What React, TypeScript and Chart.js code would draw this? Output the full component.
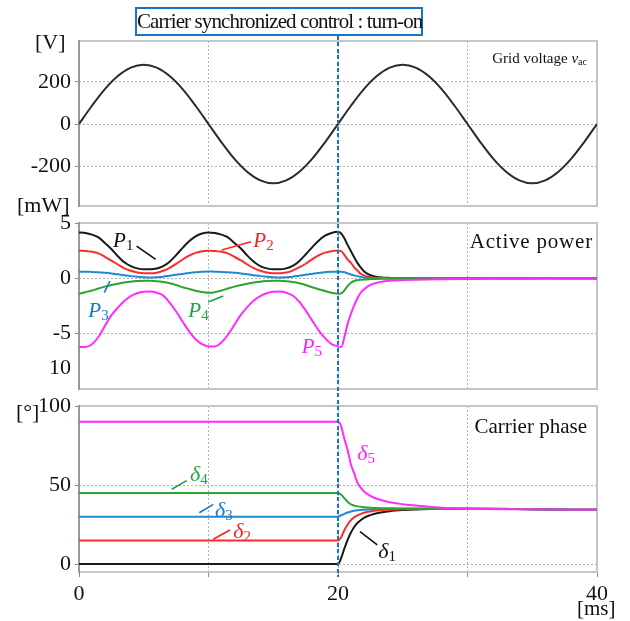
import React, { useEffect, useRef } from "react";
import { Chart, registerables } from "chart.js";

Chart.register(...registerables);

const FONT = "'Liberation Serif', 'Times New Roman', serif";

// ---------- data ----------
const voltageTime = [0, 1, 2, 3, 4, 5, 6, 7, 8, 9, 10, 11, 12, 13, 14, 15, 16, 17, 18, 19, 20, 21, 22, 23, 24, 25, 26, 27, 28, 29, 30, 31, 32, 33, 34, 35, 36, 37, 38, 39, 40];
const voltageValues = [0, 87, 166, 228, 268, 282, 268, 228, 166, 87, 0, -87, -166, -228, -268, -282, -268, -228, -166, -87, 0, 87, 166, 228, 268, 282, 268, 228, 166, 87, 0, -87, -166, -228, -268, -282, -268, -228, -166, -87, 0];

const powerTime = [0, 0.5, 1, 1.5, 2, 2.5, 3, 3.5, 4, 4.5, 5, 5.5, 6, 6.5, 7, 7.5, 8, 8.5, 9, 9.5, 10, 10.5, 11, 11.5, 12, 12.5, 13, 13.5, 14, 14.5, 15, 15.5, 16, 16.5, 17, 17.5, 18, 18.5, 19, 19.5, 20, 20.25, 20.5, 20.75, 21, 21.25, 21.5, 21.75, 22, 22.5, 23, 23.5, 24, 25, 26, 28, 30, 32, 34, 36, 38, 40];
const powerP1 = [4.15, 4.1, 3.95, 3.7, 3.2, 2.65, 2.0, 1.45, 1.1, 0.9, 0.82, 0.82, 0.88, 1.1, 1.5, 2.1, 2.75, 3.35, 3.8, 4.05, 4.15,
  4.1, 3.95, 3.7, 3.2, 2.7, 2.05, 1.5, 1.1, 0.9, 0.82, 0.82, 0.9, 1.12, 1.55, 2.15, 2.8, 3.4, 3.85, 4.1, 4.2,
  4.05, 3.6, 3.0, 2.45, 1.9, 1.4, 0.98, 0.65, 0.28, 0.12, 0.06, 0.04, 0.03, 0.02, 0.02, 0.01, 0.02, 0.01, 0.02, 0.01, 0.0];
const powerP2 = [2.5, 2.48, 2.4, 2.25, 1.95, 1.6, 1.25, 0.9, 0.68, 0.52, 0.45, 0.45, 0.5, 0.68, 0.95, 1.3, 1.7, 2.05, 2.3, 2.45, 2.5,
  2.48, 2.4, 2.25, 1.95, 1.62, 1.25, 0.92, 0.68, 0.52, 0.45, 0.45, 0.52, 0.7, 0.98, 1.32, 1.72, 2.08, 2.32, 2.45, 2.52,
  2.45, 2.1, 1.7, 1.4, 1.0, 0.7, 0.42, 0.27, 0.1, 0.04, 0.02, 0.01, 0.0, 0.01, 0.0, 0.01, 0.0, 0.01, 0.0, 0.0, 0.0];
const powerP3 = [0.6, 0.6, 0.58, 0.55, 0.5, 0.44, 0.36, 0.28, 0.2, 0.14, 0.1, 0.08, 0.1, 0.15, 0.24, 0.32, 0.4, 0.48, 0.55, 0.6, 0.62,
  0.6, 0.58, 0.55, 0.5, 0.44, 0.36, 0.28, 0.2, 0.14, 0.1, 0.08, 0.1, 0.15, 0.24, 0.32, 0.4, 0.48, 0.55, 0.6, 0.6,
  0.6, 0.55, 0.45, 0.35, 0.27, 0.2, 0.13, 0.08, 0.04, 0.02, 0.01, 0.01, 0.0, 0.01, 0.0, 0.0, 0.0, 0.0, 0.0, 0.0, 0.0];
const powerP4 = [-1.4, -1.25, -1.1, -0.92, -0.75, -0.6, -0.48, -0.38, -0.3, -0.25, -0.22, -0.22, -0.26, -0.34, -0.45, -0.6, -0.8, -0.96, -1.12, -1.24, -1.3,
  -1.25, -1.1, -0.92, -0.75, -0.6, -0.48, -0.38, -0.3, -0.25, -0.22, -0.22, -0.26, -0.34, -0.45, -0.6, -0.8, -0.98, -1.15, -1.3, -1.4,
  -1.35, -1.08, -0.68, -0.4, -0.24, -0.17, -0.13, -0.1, -0.07, -0.05, -0.04, -0.03, -0.02, -0.02, -0.01, -0.01, 0.0, 0.0, 0.0, 0.0, 0.0];
const powerP5 = [-6.2, -6.2, -5.95, -5.3, -4.3, -3.35, -2.65, -2.05, -1.6, -1.35, -1.22, -1.2, -1.3, -1.55, -2.2, -3.0, -3.9, -4.8, -5.5, -5.95, -6.15,
  -6.15, -5.8, -5.1, -4.2, -3.3, -2.6, -2.0, -1.6, -1.35, -1.22, -1.2, -1.3, -1.55, -2.1, -2.9, -3.8, -4.7, -5.4, -5.95, -6.15,
  -6.2, -5.3, -4.1, -3.2, -2.45, -1.8, -1.3, -1.0, -0.6, -0.4, -0.28, -0.22, -0.16, -0.12, -0.08, -0.05, -0.04, -0.03, -0.02, -0.02, -0.02];

const phaseTime = [0, 20, 20.25, 20.5, 20.75, 21, 21.25, 21.5, 22, 22.5, 23, 24, 25, 26, 28, 30, 35, 40];
const phaseD1 = [0, 0, 4, 10, 15.5, 20, 23.5, 26, 29.3, 31, 32.2, 33.5, 34.2, 34.6, 35, 35, 34.7, 34.3];
const phaseD2 = [15, 15, 17, 21.6, 25, 27.8, 29.6, 30.8, 32.5, 33.3, 33.9, 34.4, 34.7, 34.9, 35, 35, 34.7, 34.3];
const phaseD3 = [30, 30, 30.9, 31.8, 32.6, 33.3, 33.8, 34.1, 34.4, 34.6, 34.8, 34.9, 35, 35, 35, 35, 34.7, 34.3];
const phaseD4 = [45, 45, 43.8, 41.6, 39.3, 37.8, 37, 36.5, 36, 35.7, 35.5, 35.3, 35.2, 35.1, 35, 35, 34.7, 34.3];
const phaseD5 = [90, 90, 87, 79, 72, 63, 57.5, 51.5, 46, 43.2, 41.3, 39.1, 37.9, 37, 35.7, 35, 34.7, 34.3];

const timeTicks = [0, 10, 20, 30, 40];
const timeTickLabels = ["0", "", "20", "", "40"];
const voltageTicks = [200, 0, -200];
const voltageTickLabels = ["200", "0", "-200"];
const powerTicks = [5, 0, -5, -8.1];
const powerTickLabels = ["5", "0", "-5", "10"];
const phaseTicks = [100, 50, 0];
const phaseTickLabels = ["100", "50", "0"];

// ---------- styles ----------
const C_BLACK = "#1a1a1a";
const C_RED = "#ff2a2a";
const C_BLUE = "#1e8ad6";
const C_GREEN = "#2ba52b";
const C_MAG = "#ff2bff";
const C_DASH = "#1a74c6";

type Note = { text: string; sub: string; color: string; t: number; v: number; line?: number[] };

const powerNotes: Note[] = [
  { text: "P", sub: "1", color: "#111111", t: 2.63, v: 2.87, line: [4.45, 2.91, 5.92, 1.72] },
  { text: "P", sub: "2", color: "#ff1f1f", t: 13.46, v: 2.87, line: [11.02, 2.56, 13.28, 3.31] },
  { text: "P", sub: "3", color: "#1a78c8", t: 0.72, v: -3.45, line: [1.95, -1.3, 2.39, -0.24] },
  { text: "P", sub: "4", color: "#1fa34a", t: 8.44, v: -3.45, line: [9.98, -2.14, 11.14, -1.6] },
  { text: "P", sub: "5", color: "#ff20ff", t: 17.2, v: -6.75 },
];

const phaseNotes: Note[] = [
  { text: "δ", sub: "4", color: "#1fa34a", t: 8.57, v: 52.8, line: [7.16, 47.3, 8.32, 52.8] },
  { text: "δ", sub: "3", color: "#1a78c8", t: 10.5, v: 30.0, line: [9.29, 32.5, 10.37, 37.8] },
  { text: "δ", sub: "2", color: "#ff1f1f", t: 11.92, v: 16.3, line: [10.37, 15.7, 11.66, 21.6] },
  { text: "δ", sub: "5", color: "#ff20ff", t: 21.49, v: 65.8 },
  { text: "δ", sub: "1", color: "#111111", t: 23.11, v: 3.7, line: [21.7, 20.5, 23.03, 12.1] },
];

const pts = (xs: number[], ys: number[]) => xs.map((x, i) => ({ x, y: ys[i] }));

const line = (label: string, data: { x: number; y: number }[], color: string, smooth = "monotone") => ({
  label,
  data,
  borderColor: color,
  backgroundColor: color,
  borderWidth: 2,
  pointRadius: 0,
  fill: false,
  tension: 0.4,
  cubicInterpolationMode: smooth,
});

const framePlugin = {
  id: "frame",
  beforeDatasetsDraw(chart: any) {
    const { ctx, chartArea: a } = chart;
    ctx.save();
    ctx.strokeStyle = "#c6c6c6";
    ctx.lineWidth = 2;
    ctx.strokeRect(a.left, a.top, a.right - a.left, a.bottom - a.top);
    ctx.strokeStyle = "#8a8a8a";
    ctx.lineWidth = 1.5;
    ctx.beginPath();
    ctx.moveTo(a.left, a.top - 1);
    ctx.lineTo(a.left, a.bottom + 1);
    ctx.stroke();
    ctx.restore();
  },
};

const notesPlugin = {
  id: "notes",
  afterDatasetsDraw(chart: any, _args: any, opts: any) {
    const notes: Note[] = opts.notes || [];
    const size: number = opts.size || 21;
    const { ctx } = chart;
    const xs = chart.scales.x;
    const ys = chart.scales.y;
    ctx.save();
    for (const n of notes) {
      if (n.line) {
        ctx.strokeStyle = n.color;
        ctx.lineWidth = 1.6;
        ctx.beginPath();
        ctx.moveTo(xs.getPixelForValue(n.line[0]), ys.getPixelForValue(n.line[1]));
        ctx.lineTo(xs.getPixelForValue(n.line[2]), ys.getPixelForValue(n.line[3]));
        ctx.stroke();
      }
      const x = xs.getPixelForValue(n.t);
      const y = ys.getPixelForValue(n.v);
      ctx.fillStyle = n.color;
      ctx.textBaseline = "alphabetic";
      ctx.textAlign = "left";
      ctx.font = `italic ${size}px ${FONT}`;
      ctx.fillText(n.text, x, y);
      const w = ctx.measureText(n.text).width;
      ctx.font = `${Math.round(size * 0.7)}px ${FONT}`;
      ctx.fillText(n.sub, x + w, y + 3);
    }
    ctx.restore();
  },
};

type PanelCfg = {
  datasets: any[];
  yMin: number;
  yMax: number;
  yTicks: number[];
  yLabels: string[];
  padTop: number;
  padBottom: number;
  showX: boolean;
  notes: Note[];
  noteSize: number;
};

function makeChart(canvas: HTMLCanvasElement, cfg: PanelCfg) {
  const hidden = (v: number) => !cfg.yTicks.includes(v) || v === -8.1;
  return new Chart(canvas, {
    type: "line",
    data: { datasets: cfg.datasets },
    plugins: [framePlugin, notesPlugin],
    options: {
      responsive: false,
      animation: false,
      events: [],
      layout: { padding: { left: 0, right: 33, top: cfg.padTop, bottom: cfg.padBottom } },
      plugins: {
        legend: { display: false },
        tooltip: { enabled: false },
        title: { display: false },
        notes: { notes: cfg.notes, size: cfg.noteSize },
      } as any,
      scales: {
        x: {
          type: "linear",
          min: 0,
          max: 40,
          afterBuildTicks: (s: any) => {
            s.ticks = timeTicks.map((v) => ({ value: v }));
          },
          afterFit: (s: any) => {
            s.height = cfg.showX ? 40 : 0;
            s.paddingLeft = 0;
            s.paddingRight = 0;
          },
          ticks: {
            display: cfg.showX,
            autoSkip: false,
            maxRotation: 0,
            padding: 4,
            color: "#111",
            font: { family: FONT, size: 22 },
            callback: (_v: any, i: number) => timeTickLabels[i],
          },
          grid: {
            color: "#b0b0b0",
            lineWidth: 1,
            drawTicks: cfg.showX,
            tickLength: 5,
            tickColor: "#8a8a8a",
            tickWidth: 1,
            tickBorderDash: [],
            borderDash: [2, 2],
          } as any,
          border: { display: false, dash: [2, 2] },
        },
        y: {
          type: "linear",
          min: cfg.yMin,
          max: cfg.yMax,
          afterBuildTicks: (s: any) => {
            s.ticks = cfg.yTicks.map((v) => ({ value: v }));
          },
          afterFit: (s: any) => {
            s.width = 79;
            s.paddingTop = 0;
            s.paddingBottom = 0;
          },
          ticks: {
            autoSkip: false,
            padding: 4,
            color: "#111",
            font: { family: FONT, size: 22 },
            callback: (_v: any, i: number) => cfg.yLabels[i],
          },
          grid: {
            color: (c: any) => (c.tick && c.tick.value === -8.1 ? "rgba(0,0,0,0)" : "#b0b0b0"),
            lineWidth: 1,
            drawTicks: true,
            tickLength: 4,
            tickColor: (c: any) => (c.tick && c.tick.value === -8.1 ? "rgba(0,0,0,0)" : "#8a8a8a"),
            tickWidth: 1,
            tickBorderDash: [],
            borderDash: [2, 2],
          } as any,
          border: { display: false, dash: [2, 2] },
        },
      },
    } as any,
  });
}

export default function App() {
  const r1 = useRef<HTMLCanvasElement>(null);
  const r2 = useRef<HTMLCanvasElement>(null);
  const r3 = useRef<HTMLCanvasElement>(null);

  useEffect(() => {
    const charts = [
      makeChart(r1.current!, {
        datasets: [line("v_ac", pts(voltageTime, voltageValues), "#2b2b2b")],
        yMin: -390,
        yMax: 395,
        yTicks: voltageTicks,
        yLabels: voltageTickLabels,
        padTop: 41,
        padBottom: 9,
        showX: false,
        notes: [],
        noteSize: 21,
      }),
      makeChart(r2.current!, {
        datasets: [
          line("P5", pts(powerTime, powerP5), C_MAG),
          line("P4", pts(powerTime, powerP4), C_GREEN),
          line("P3", pts(powerTime, powerP3), C_BLUE),
          line("P2", pts(powerTime, powerP2), C_RED),
          line("P1", pts(powerTime, powerP1), C_BLACK),
        ],
        yMin: -10,
        yMax: 5,
        yTicks: powerTicks,
        yLabels: powerTickLabels,
        padTop: 8,
        padBottom: 9,
        showX: false,
        notes: powerNotes,
        noteSize: 21,
      }),
      makeChart(r3.current!, {
        datasets: [
          line("d5", pts(phaseTime, phaseD5), C_MAG),
          line("d4", pts(phaseTime, phaseD4), C_GREEN),
          line("d3", pts(phaseTime, phaseD3), C_BLUE),
          line("d2", pts(phaseTime, phaseD2), C_RED),
          line("d1", pts(phaseTime, phaseD1), C_BLACK),
        ],
        yMin: -5,
        yMax: 100,
        yTicks: phaseTicks,
        yLabels: phaseTickLabels,
        padTop: 8,
        padBottom: 9,
        showX: true,
        notes: phaseNotes,
        noteSize: 22,
      }),
    ];
    return () => charts.forEach((c) => c.destroy());
  }, []);

  const abs = (o: React.CSSProperties): React.CSSProperties => ({ position: "absolute", lineHeight: 1, whiteSpace: "nowrap", ...o });

  return (
    <div style={{ position: "absolute", left: 0, top: 0, width: 630, height: 621, background: "#fff", fontFamily: FONT, color: "#111", overflow: "hidden" }}>
      <canvas ref={r1} width={630} height={215} style={{ position: "absolute", left: 0, top: 0, width: 630, height: 215 }} />
      <canvas ref={r2} width={630} height={183} style={{ position: "absolute", left: 0, top: 215, width: 630, height: 183 }} />
      <canvas ref={r3} width={630} height={223} style={{ position: "absolute", left: 0, top: 398, width: 630, height: 223 }} />

      <div style={abs({ left: 35, top: 31, fontSize: 22 })}>[V]</div>
      <div style={abs({ left: 17, top: 194, fontSize: 22 })}>[mW]</div>
      <div style={abs({ left: 16, top: 401, fontSize: 22 })}>[°]</div>
      <div style={abs({ left: 577, top: 598, fontSize: 21 })}>[ms]</div>

      <div style={abs({ right: 43, top: 51, fontSize: 15 })}>
        Grid voltage <i>v</i>
        <span style={{ fontSize: 10, position: "relative", top: 2 }}>ac</span>
      </div>
      <div style={abs({ right: 37, top: 231, fontSize: 21, letterSpacing: 0.8 })}>Active power</div>
      <div style={abs({ right: 43, top: 416, fontSize: 21 })}>Carrier phase</div>

      <div
        style={{
          position: "absolute",
          left: 337,
          top: 36,
          width: 2,
          height: 541,
          background: `repeating-linear-gradient(to bottom, ${C_DASH} 0px, ${C_DASH} 4px, transparent 4px, transparent 6.5px)`,
        }}
      />

      <div
        style={{
          position: "absolute",
          left: 135,
          top: 7,
          width: 288,
          height: 29,
          boxSizing: "border-box",
          border: `2px solid ${C_DASH}`,
          background: "#fff",
          fontSize: 21,
          letterSpacing: -0.9,
          lineHeight: "25px",
          textAlign: "center",
          whiteSpace: "nowrap",
        }}
      >
        Carrier synchronized control : turn-on
      </div>
    </div>
  );
}
